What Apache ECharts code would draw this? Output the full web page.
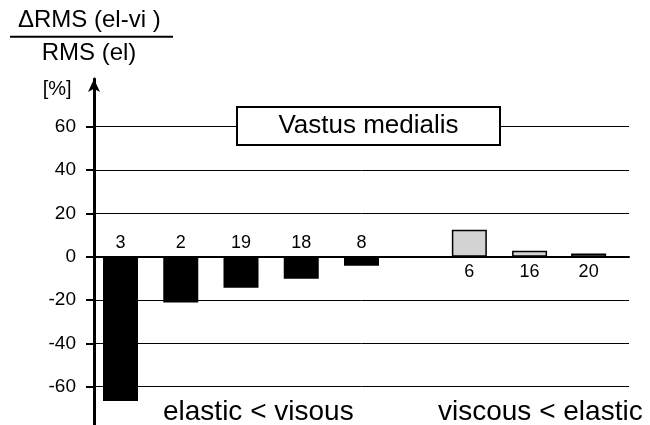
<!DOCTYPE html>
<html>
<head>
<meta charset="utf-8">
<script src="https://cdn.jsdelivr.net/npm/echarts@6/dist/echarts.min.js"></script>
<style>html,body{margin:0;padding:0;background:#fff}#c{width:650px;height:425px}</style>
</head>
<body>
<div id="c"></div>
<script>
// Data
const elasticIds = ['3', '2', '19', '18', '8'];
const elasticValues = [-66.6, -21.2, -14.3, -10.2, -4.2];
const elasticPos = [1, 2, 3, 4, 5];
const viscousIds = ['6', '16', '20'];
const viscousValues = [12.4, 2.7, 1.4];
const viscousPos = [6.79, 7.79, 8.77];
const tickValues = [-60, -40, -20, 0, 20, 40, 60];
const gridValues = [-60, -40, -20, 20, 40, 60];
const titleTop = 'ΔRMS (el-vi )';
const titleBottom = 'RMS (el)';
const unitLabel = '[%]';
const boxLabel = 'Vastus medialis';
const leftGroup = 'elastic < visous';
const rightGroup = 'viscous < elastic';

const FONT = 'Liberation Sans, Arial, sans-serif';
const chart = echarts.init(document.getElementById('c'), null, {renderer: 'canvas'});

const option = {
  animation: false,
  backgroundColor: '#fff',
  grid: {left: 94, right: 21, top: 79, bottom: 0, containLabel: false},
  xAxis: {
    type: 'value', min: 0.56, max: 9.44,
    axisLine: {show: true, onZero: true, lineStyle: {color: '#000', width: 2}},
    axisTick: {show: false}, axisLabel: {show: false}, splitLine: {show: false}
  },
  yAxis: {
    type: 'value', min: -77.7, max: 82,
    axisLine: {show: true, onZero: false, symbol: ['none', 'arrow'], symbolSize: [9, 13],
      lineStyle: {color: '#000', width: 3}},
    axisTick: {show: true, inside: false, length: 8, customValues: tickValues,
      lineStyle: {color: '#000', width: 2}},
    axisLabel: {show: true, customValues: tickValues, margin: 18, color: '#000',
      fontSize: 19, fontFamily: FONT},
    splitLine: {show: false}
  },
  series: [
    {
      type: 'bar', barWidth: 35, barGap: '-100%',
      data: elasticPos.map((p, i) => [p, elasticValues[i]]),
      itemStyle: {color: '#000'},
      label: {show: true, position: 'top', distance: 5, color: '#000', fontSize: 18,
        fontFamily: FONT, formatter: p => elasticIds[p.dataIndex]},
      markLine: {
        silent: true, symbol: ['none', 'none'], label: {show: false},
        lineStyle: {color: '#000', width: 1, type: 'solid'},
        emphasis: {disabled: true},
        data: gridValues.map(v => ({yAxis: v}))
      },
      z: 3
    },
    {
      type: 'bar', barWidth: 35, barGap: '-100%',
      data: viscousPos.map((p, i) => [p, viscousValues[i]]),
      itemStyle: {color: '#d3d3d3', borderColor: '#000', borderWidth: 1.5},
      label: {show: true, position: 'bottom', distance: 6, color: '#000', fontSize: 18,
        fontFamily: FONT, formatter: p => viscousIds[p.dataIndex]},
      z: 3
    }
  ],
  graphic: [
    {type: 'text', z: 10, style: {x: 18, y: 20.5, text: titleTop, font: '24px ' + FONT, fill: '#000', verticalAlign: 'middle'}},
    {type: 'line', z: 10, shape: {x1: 10, y1: 36.7, x2: 173, y2: 36.7}, style: {stroke: '#000', lineWidth: 2}},
    {type: 'text', z: 10, style: {x: 41.7, y: 53.4, text: titleBottom, font: '24px ' + FONT, fill: '#000', verticalAlign: 'middle'}},
    {type: 'text', z: 10, style: {x: 42.7, y: 89, text: unitLabel, font: '20px ' + FONT, fill: '#000', verticalAlign: 'middle'}},
    {type: 'rect', z: 10, shape: {x: 237, y: 107, width: 263, height: 38}, style: {fill: '#fff', stroke: '#000', lineWidth: 2}},
    {type: 'text', z: 11, style: {x: 368.5, y: 126.3, text: boxLabel, font: '26px ' + FONT, fill: '#000', align: 'center', verticalAlign: 'middle'}},
    {type: 'text', z: 10, style: {x: 163, y: 412, text: leftGroup, font: '28px ' + FONT, fill: '#000', verticalAlign: 'middle'}},
    {type: 'text', z: 10, style: {x: 438, y: 412, text: rightGroup, font: '28px ' + FONT, fill: '#000', verticalAlign: 'middle'}}
  ]
};
chart.setOption(option);
</script>
</body>
</html>
